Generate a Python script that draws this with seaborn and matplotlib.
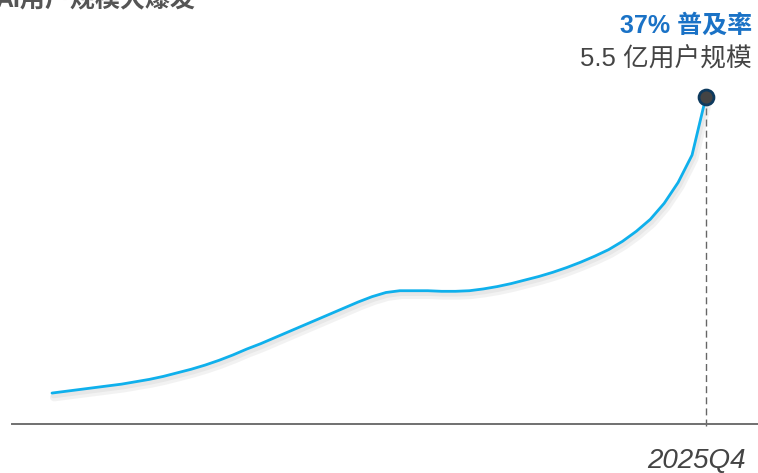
import numpy as np
import pandas as pd
import matplotlib
matplotlib.use("Agg")
import matplotlib.pyplot as plt
import matplotlib.patheffects as pe
import seaborn as sns

# monthly users (亿), 2022-01 .. 2025-12
months = pd.period_range("2022-01", "2025-12", freq="M").astype(str).tolist()
users = [0.52, 0.55, 0.58, 0.61, 0.64, 0.67, 0.71, 0.75,
         0.80, 0.86, 0.92, 0.99, 1.07, 1.16, 1.26, 1.35,
         1.45, 1.55, 1.65, 1.75, 1.85, 1.95, 2.05, 2.14,
         2.21, 2.24, 2.24, 2.24, 2.23, 2.23, 2.24, 2.27,
         2.31, 2.36, 2.42, 2.48, 2.55, 2.63, 2.72, 2.82,
         2.93, 3.07, 3.24, 3.44, 3.71, 4.06, 4.52, 5.5]
last_label = "2025Q4"
penetration = "37% 普及率"
scale_text = "5.5 亿用户规模"
title = "AI用户规模大爆发"

sns.set_theme(style="white")
plt.rcParams["font.family"] = ["Liberation Sans", "Noto Sans CJK SC", "DejaVu Sans"]

df = pd.DataFrame({"month": months, "idx": np.arange(len(users)), "users": users})

fig = plt.figure(figsize=(7.58, 4.73), dpi=100)
ax = fig.add_axes([12 / 758, 1 - 424 / 473, 1 - 12 / 758, 424 / 473])

sns.lineplot(data=df, x="idx", y="users", ax=ax, color="#0fb0ec", linewidth=2.0,
             path_effects=[pe.SimpleLineShadow(offset=(1.5, -3), shadow_color="#999999",
                                               alpha=0.12, linewidth=6),
                           pe.SimpleLineShadow(offset=(1, -2), shadow_color="#999999",
                                               alpha=0.12, linewidth=3.5),
                           pe.Normal()])

last = df.iloc[-1]
ax.plot([last["idx"], last["idx"]], [-0.03, last["users"]], ls=(0, (5, 3)),
        color="#666666", lw=1.0, zorder=1, clip_on=False)
ax.scatter([last["idx"]], [last["users"]], s=115, color="#444444",
           edgecolor="#0e3a5e", linewidth=2.0, zorder=5)

ax.set_xlim(-2.875, 50.74)
ax.set_ylim(0, 7.126)
for s in ["top", "right", "left"]:
    ax.spines[s].set_visible(False)
ax.spines["bottom"].set_color("#707070")
ax.spines["bottom"].set_linewidth(1.4)
ax.set_xticks([])
ax.set_yticks([])
ax.set_xlabel("")
ax.set_ylabel("")

fig.text(752 / 758, 1 - 26 / 473, penetration, ha="right", va="center",
         fontsize=18, fontweight="bold", color="#1a72c6")
fig.text(752 / 758, 1 - 59 / 473, scale_text, ha="right", va="center",
         fontsize=18.5, color="#444444")
fig.text(746 / 758, 1 - 461 / 473, last_label, ha="right", va="center",
         fontsize=20, style="italic", color="#444444")
fig.text(-5 / 758, 1 - 0 / 473, title, ha="left", va="center",
         fontsize=18, fontweight="bold", color="#555555")

fig.savefig("out.png", dpi=100)
